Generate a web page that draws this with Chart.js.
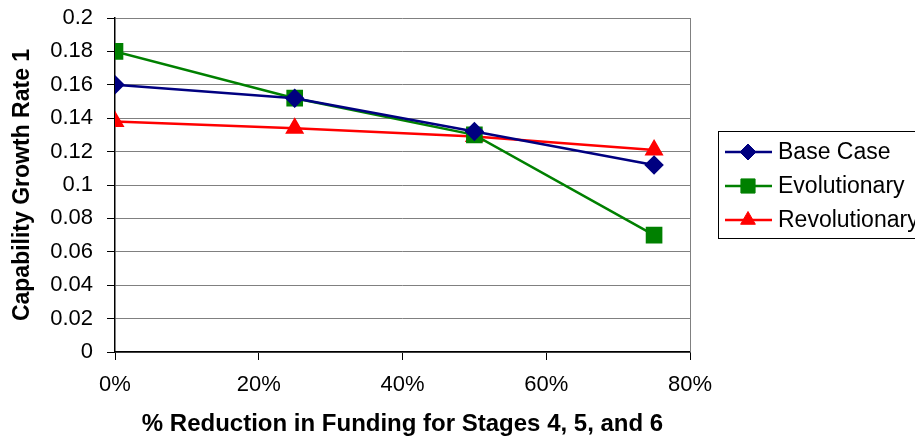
<!DOCTYPE html>
<html>
<head>
<meta charset="utf-8">
<script src="https://cdn.jsdelivr.net/npm/chart.js@4"></script>
<style>
  html, body { margin: 0; padding: 0; background: #fff; }
  #wrap { width: 915px; height: 439px; position: relative; }
</style>
</head>
<body>
<div id="wrap"><canvas id="growthChart" width="915" height="439"></canvas></div>
<script>
// funding reduction (%) on the x axis
const reductions = [0, 25, 50, 75];
// capability growth rate for each case
const baseCase = [0.160, 0.152, 0.132, 0.112];
const evolutionary = [0.180, 0.152, 0.130, 0.070];
const revolutionary = [0.138, 0.134, 0.129, 0.121];
const seriesNames = ['Base Case', 'Evolutionary', 'Revolutionary'];

const FONT = "'Liberation Sans', Arial, sans-serif";

function toPoints(values) {
    return reductions.map(function(x, i) { return { x: x, y: values[i] }; });
}

// draws the right border of the plot and the boxed legend
const frameAndLegend = {
    id: 'frameAndLegend',
    afterDraw: function(chart) {
        const ctx = chart.ctx;
        const area = chart.chartArea;
        ctx.save();
        ctx.strokeStyle = '#808080';
        ctx.lineWidth = 1;
        ctx.beginPath();
        ctx.moveTo(Math.round(area.right) + 0.5, area.top);
        ctx.lineTo(Math.round(area.right) + 0.5, area.bottom);
        ctx.stroke();

        // legend box
        ctx.strokeStyle = '#000';
        ctx.strokeRect(718.5, 131.5, 210, 107);
        ctx.font = '23px ' + FONT;
        ctx.textBaseline = 'middle';
        chart.data.datasets.forEach(function(ds, i) {
            const y = 152 + i * 34;
            ctx.strokeStyle = ds.borderColor;
            ctx.lineWidth = 2.5;
            ctx.beginPath();
            ctx.moveTo(725, y);
            ctx.lineTo(772, y);
            ctx.stroke();
            ctx.fillStyle = ds.backgroundColor;
            ctx.lineWidth = 1;
            Chart.helpers.drawPoint(ctx, {
                pointStyle: ds.pointStyle,
                radius: ds.pointRadius,
                rotation: 0,
                borderWidth: 1
            }, 748, y);
            ctx.fillStyle = '#000';
            ctx.fillText(ds.label, 778, y + 1);
        });
        ctx.restore();
    }
};

const ctx = document.getElementById('growthChart').getContext('2d');
new Chart(ctx, {
    type: 'line',
    data: {
        datasets: [{
            label: seriesNames[0],
            data: toPoints(baseCase),
            borderColor: '#000080',
            backgroundColor: '#000080',
            pointStyle: 'rectRot',
            pointRadius: 8,
            borderWidth: 2.5
        }, {
            label: seriesNames[1],
            data: toPoints(evolutionary),
            borderColor: '#008000',
            backgroundColor: '#008000',
            pointStyle: 'rect',
            pointRadius: 10,
            borderWidth: 2.5
        }, {
            label: seriesNames[2],
            data: toPoints(revolutionary),
            borderColor: '#ff0000',
            backgroundColor: '#ff0000',
            pointStyle: 'triangle',
            pointRadius: 8.5,
            borderWidth: 2.5
        }]
    },
    options: {
        responsive: false,
        animation: false,
        layout: { padding: { top: 18, right: 225, bottom: 0, left: 0 } },
        plugins: {
            legend: { display: false },
            tooltip: { enabled: false }
        },
        elements: { line: { tension: 0 }, point: { borderWidth: 1 } },
        scales: {
            x: {
                type: 'linear',
                min: 0,
                max: 80,
                ticks: {
                    stepSize: 20,
                    color: '#000',
                    padding: 12,
                    maxRotation: 0,
                    font: { family: FONT, size: 22 },
                    callback: function(v) { return v + '%'; }
                },
                grid: {
                    drawOnChartArea: false,
                    drawTicks: true,
                    tickLength: 8,
                    tickColor: '#000'
                },
                border: { color: '#000', width: 1.5 },
                title: {
                    display: true,
                    text: '% Reduction in Funding for Stages 4, 5, and 6',
                    color: '#000',
                    font: { family: FONT, size: 24, weight: 'bold' },
                    padding: { top: 0, bottom: 0 }
                },
                afterFit: function(scale) {
                    scale.height = 87;
                    scale.paddingLeft = 0;
                    scale.paddingRight = 0;
                }
            },
            y: {
                min: 0,
                max: 0.2,
                ticks: {
                    stepSize: 0.02,
                    color: '#000',
                    padding: 14,
                    font: { family: FONT, size: 22 },
                    callback: function(v) { return parseFloat(v.toFixed(2)).toString(); }
                },
                grid: {
                    color: '#808080',
                    lineWidth: 1,
                    tickLength: 8,
                    tickColor: '#000'
                },
                border: { color: '#000', width: 1.5 },
                title: {
                    display: true,
                    text: 'Capability Growth Rate 1',
                    color: '#000',
                    font: { family: FONT, size: 23, weight: 'bold' },
                    padding: { top: 9, bottom: 0 }
                },
                afterFit: function(scale) {
                    scale.width = 115;
                    scale.paddingTop = 0;
                    scale.paddingBottom = 0;
                }
            }
        }
    },
    plugins: [frameAndLegend]
});
</script>
</body>
</html>
